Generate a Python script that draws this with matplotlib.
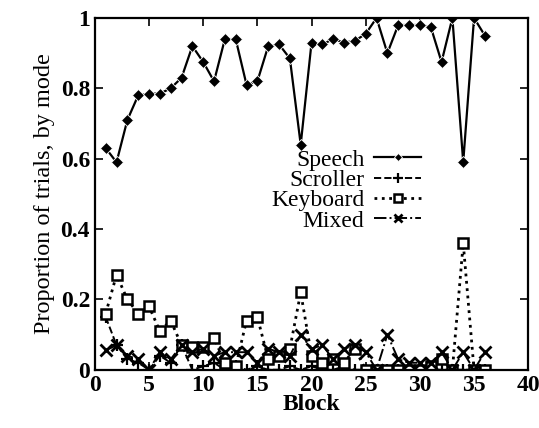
import numpy as np
import matplotlib.pyplot as plt

plt.rcParams['font.family'] = ['Liberation Serif', 'DejaVu Serif']

block = np.arange(1, 37)

speech = [0.63, 0.59, 0.71, 0.78, 0.785, 0.785, 0.80, 0.83, 0.92, 0.875,
          0.82, 0.94, 0.94, 0.81, 0.82, 0.92, 0.925, 0.885, 0.64, 0.93,
          0.925, 0.94, 0.93, 0.935, 0.955, 1.0, 0.90, 0.98, 0.98, 0.98,
          0.975, 0.875, 1.0, 0.59, 1.0, 0.95]
scroller = [0.15, 0.07, 0.03, 0.02, 0.0, 0.04, 0.02, 0.07, 0.0, 0.01,
            0.02, 0.0, 0.01, 0.0, 0.01, 0.0, 0.0, 0.01, 0.0, 0.01,
            0.0, 0.0, 0.01, 0.0, 0.0, 0.0, 0.0, 0.0, 0.0, 0.0,
            0.0, 0.0, 0.0, 0.0, 0.0, 0.0]
keyboard = [0.16, 0.27, 0.20, 0.16, 0.18, 0.11, 0.14, 0.07, 0.065, 0.065,
            0.09, 0.02, 0.01, 0.14, 0.15, 0.03, 0.04, 0.06, 0.22, 0.04,
            0.02, 0.03, 0.02, 0.06, 0.0, 0.0, 0.0, 0.0, 0.0, 0.0,
            0.01, 0.03, 0.0, 0.36, 0.0, 0.0]
mixed = [0.055, 0.07, 0.04, 0.03, 0.0, 0.05, 0.03, 0.07, 0.05, 0.06,
         0.04, 0.05, 0.05, 0.05, 0.02, 0.06, 0.05, 0.04, 0.10, 0.06,
         0.07, 0.03, 0.06, 0.07, 0.05, 0.0, 0.10, 0.03, 0.02, 0.02,
         0.02, 0.05, 0.0, 0.05, 0.0, 0.05]

fig = plt.figure(figsize=(5.39, 4.28), dpi=100)
ax = fig.add_axes([0.176, 0.136, 0.804, 0.822])

ax.plot(block, speech, '-', color='black', lw=1.6, marker='D', ms=6,
        mfc='black', mec='white', mew=0.6, label='Speech')
ax.plot(block, scroller, '--', color='black', lw=1.4, marker='+', ms=9,
        mew=1.6, label='Scroller')
ax.plot(block, keyboard, ':', color='black', lw=2.0, marker='s', ms=7,
        mfc='white', mec='black', mew=1.8, label='Keyboard')
ax.plot(block, mixed, '-.', color='black', lw=1.4, marker='x', ms=8,
        mew=2.0, label='Mixed')

ax.set_xlim(0, 40)
ax.set_ylim(0, 1)
ax.set_xticks(range(0, 41, 5))
ax.set_yticks([0, 0.2, 0.4, 0.6, 0.8, 1])
ax.set_yticklabels(['0', '0.2', '0.4', '0.6', '0.8', '1'])
ax.tick_params(direction='in', top=True, right=True, length=6, width=1.2,
               labelsize=17)
for lab in ax.get_xticklabels() + ax.get_yticklabels():
    lab.set_fontweight('bold')
for sp in ax.spines.values():
    sp.set_linewidth(1.6)

ax.set_xlabel('Block', fontsize=17, fontweight='bold', labelpad=-1)
ax.set_ylabel('Proportion of trials, by mode', fontsize=17.5, labelpad=4)

leg = ax.legend(loc='center', bbox_to_anchor=(0.58, 0.51), frameon=False,
                markerfirst=False, fontsize=17, handlelength=2.0,
                labelspacing=-0.05, handletextpad=0.4, borderpad=0,
                markerscale=0.75)
for t in leg.get_texts():
    t.set_ha('right')

fig.savefig('out.png', dpi=100)
